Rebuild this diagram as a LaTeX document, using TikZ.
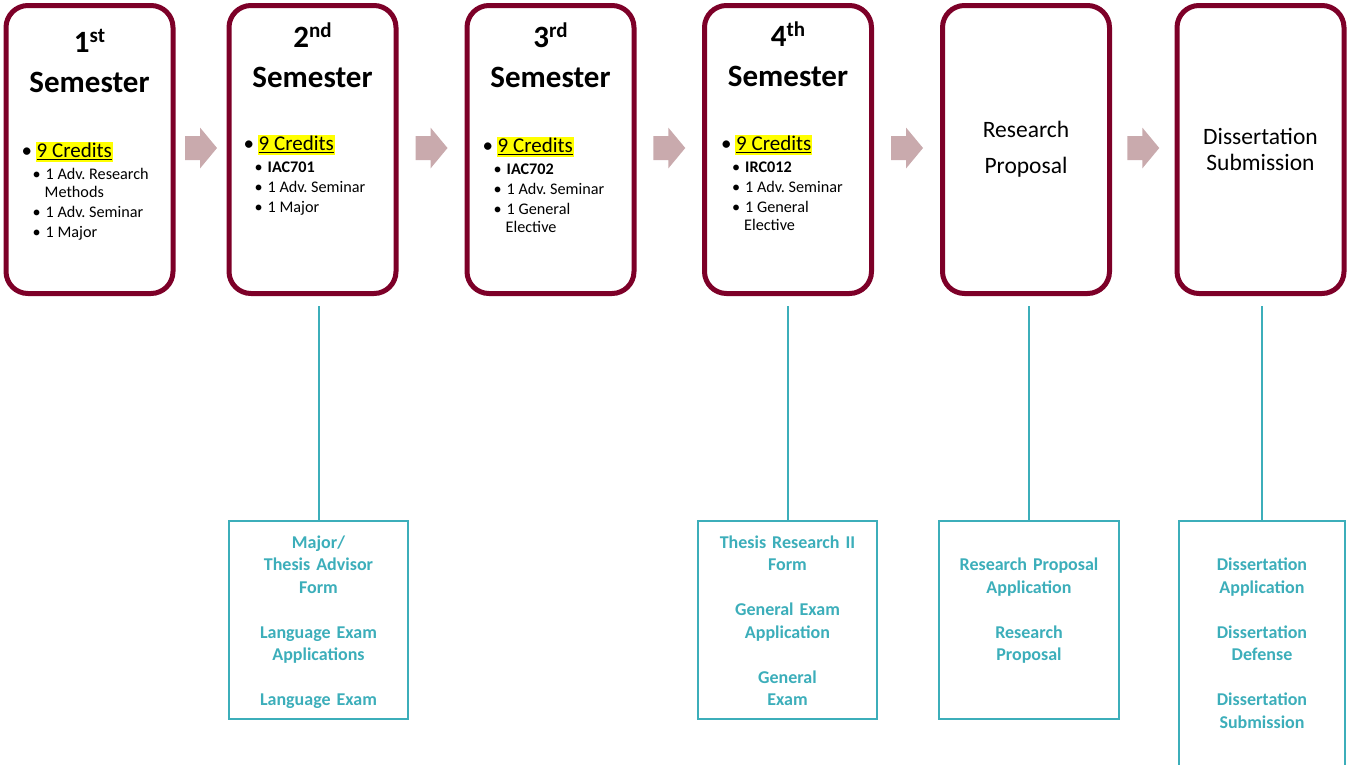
\documentclass[tikz,border=0pt]{standalone}
\usepackage{fontspec}
\setmainfont{Carlito}
\usetikzlibrary{positioning, calc}

\definecolor{semred}{RGB}{125,0,40}
\definecolor{formteal}{RGB}{60,174,186}
\definecolor{stepgray}{RGB}{201,170,173}
\definecolor{hlyellow}{RGB}{255,255,0}

\newcommand{\ordsup}[1]{\raisebox{10pt}{\fontsize{21}{21}\selectfont #1}}
\newcommand{\credul}[1]{\setbox0\hbox{#1}\rlap{\rule[-3pt]{\wd0}{1.3pt}}\box0}
\newcommand{\credits}[1]{{\setlength{\fboxsep}{0pt}\colorbox{hlyellow}{\rule[-5pt]{0pt}{20.5pt}\kern1pt\credul{#1}\kern1pt}}}
\newcommand{\plainspace}{\spaceskip=0pt\xspaceskip=0pt\frenchspacing}
\newcommand{\mitem}[1]{\plainspace\noindent\makebox[14pt][l]{\textbullet}\credits{#1}\par}
\newcommand{\sublist}{\vspace{2pt}\fontsize{16.2}{18}\selectfont\setlength{\parskip}{2pt}}
\newcommand{\sitem}[1]{\noindent\hspace*{11pt}\makebox[13pt][l]{\textbullet}#1\par}
\newcommand{\wrapline}[1]{\hspace*{23pt}#1}

\tikzset{pics/stepshift/.style={code={
  \fill[stepgray] (-16,-12) -- (-1,-12) -- (-1,-20.5) -- (16,0) -- (-1,20.5) -- (-1,12) -- (-16,12) -- cycle;}}}

\begin{document}
\begin{tikzpicture}[x=1pt, y=1pt,
	sembox/.style={draw=semred, line width=5pt, rounded corners=22pt, minimum width=167pt,
		minimum height=288pt, inner sep=0pt, align=center},
	semtitle/.style={anchor=base, inner sep=0pt, text width=160pt, align=center,
		font=\fontsize{31}{40}\selectfont\bfseries},
	semlist/.style={anchor=base west, inner sep=0pt, text width=150pt, align=left,
		font=\fontsize{21}{24}\selectfont},
	formbox/.style={draw=formteal, line width=2pt, minimum width=179pt, minimum height=198pt, inner sep=0pt},
	formtext/.style={anchor=base, inner sep=0pt, text width=175pt, align=center, text=formteal,
		font=\fontsize{18}{22.5}\selectfont\bfseries},
	link/.style={draw=formteal, line width=2pt, shorten >=10pt},
	]
	\useasboundingbox (0,0) rectangle (1347,-764);
	\clip (0,0) rectangle (1347,-764);
	
	\node [sembox] (s1) at (89.5,-149.5) {};
	\node [sembox] (s2) at (312.5,-149.5) {};
	\node [sembox] (s3) at (550.5,-149.5) {};
	\node [sembox] (s4) at (788,-149.5) {};
	\node [sembox, font=\fontsize{23.5}{36}\selectfont] (s5) at (1026,-149.5) {Research\\Proposal};
	\node [sembox, font=\fontsize{23.5}{26.5}\selectfont] (s6) at (1260.5,-149.5) {Dissertation\\Submission};
	
	\node [semtitle] (s1title) at ($(s1.north)+(0,-49)$) {1\ordsup{st}\\Semester};
	\node [semtitle] (s2title) at ($(s2.north)+(0,-44)$) {2\ordsup{nd}\\Semester};
	\node [semtitle] (s3title) at ($(s3.north)+(0,-44)$) {3\ordsup{rd}\\Semester};
	\node [semtitle] (s4title) at ($(s4.north)+(0,-43)$) {4\ordsup{th}\\Semester};
	
	\node [semlist] (s1list) at ($(s1.north west)+(18,-154)$) {\mitem{9 Credits}\sublist
		\sitem{1 Adv. Research\\\wrapline{Methods}}\sitem{1 Adv. Seminar}\sitem{1 Major}};
	\node [semlist] (s2list) at ($(s2.north west)+(17,-147)$) {\mitem{9 Credits}\sublist
		\sitem{\textbf{IAC701}}\sitem{1 Adv. Seminar}\sitem{1 Major}};
	\node [semlist] (s3list) at ($(s3.north west)+(18,-149)$) {\mitem{9 Credits}\sublist
		\sitem{\textbf{IAC702}}\sitem{1 Adv. Seminar}\sitem{1 General\\\wrapline{Elective}}};
	\node [semlist] (s4list) at ($(s4.north west)+(19,-147)$) {\mitem{9 Credits}\sublist
		\sitem{\textbf{IRC012}}\sitem{1 Adv. Seminar}\sitem{1 General\\\wrapline{Elective}}};
	
	\foreach \a/\b in {s1/s2, s2/s3, s3/s4, s4/s5, s5/s6}
		\pic at ($($(\a.east)!0.5!(\b.west)$)+(0,1.5)$) {stepshift};
	
	\node [formbox] (fA) at (318.5,-620) {};
	\node [formbox] (fB) at (787.5,-620) {};
	\node [formbox, minimum width=180pt] (fC) at (1029,-620) {};
	\node [formbox, minimum width=166pt, minimum height=246pt] (fD) at (1262,-644) {};
	
	\node [formtext] (fAtext) at ($(fA.north)+(0,-28)$) {Major/\\Thesis Advisor\\Form\\[22.5pt]Language Exam\\Applications\\[22.5pt]Language Exam};
	\node [formtext] (fBtext) at ($(fB.north)+(0,-28)$) {Thesis Research II\\Form\\[22.5pt]General Exam\\Application\\[22.5pt]General\\Exam};
	\node [formtext] (fCtext) at ($(fC.north)+(0,-50.5)$) {Research Proposal\\Application\\[22.5pt]Research\\Proposal};
	\node [formtext] (fDtext) at ($(fD.north)+(0,-50.5)$) {Dissertation\\Application\\[22.5pt]Dissertation\\Defense\\[22.5pt]Dissertation\\Submission};
	
	\draw [link] (fA.north) -- (fA.north |- s2.south);
	\draw [link] (fB.north) -- (fB.north |- s4.south);
	\draw [link] (fC.north) -- (fC.north |- s5.south);
	\draw [link] (fD.north) -- (fD.north |- s6.south);
\end{tikzpicture}
\end{document}
